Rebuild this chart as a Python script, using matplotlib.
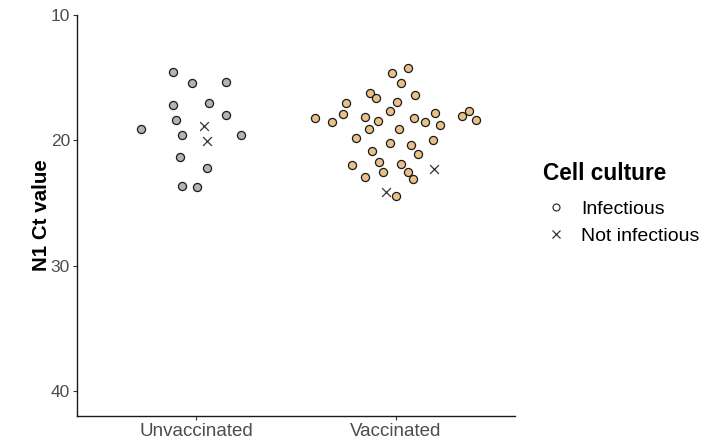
import numpy as np
import matplotlib
matplotlib.use("Agg")
import matplotlib.pyplot as plt
from matplotlib.lines import Line2D

plt.rcParams['font.family'] = ['Liberation Sans', 'DejaVu Sans']

groups = ["Unvaccinated", "Vaccinated"]

# Ct values, with the horizontal jitter of each point
unvax_ct = [14.52, 15.44, 15.36, 17.20, 16.99, 18.39, 17.99, 19.08, 19.59,
            19.56, 21.29, 22.22, 23.60, 23.71]
unvax_jit = [-0.117, -0.024, 0.148, -0.120, 0.063, -0.105, 0.147, -0.279,
             -0.074, 0.222, -0.084, 0.051, -0.074, 0.001]
unvax_ni_ct = [18.84, 20.04]
unvax_ni_jit = [0.038, 0.051]

vax_ct = [14.25, 14.60, 15.44, 16.24, 16.59, 16.35, 17.01, 16.96, 17.63,
          17.90, 18.23, 18.54, 18.10, 18.45, 19.07, 19.09, 18.19, 18.50,
          17.83, 18.80, 18.02, 17.63, 18.37, 19.84, 20.18, 20.32, 19.98,
          20.81, 21.08, 21.73, 21.93, 21.89, 22.49, 22.53, 22.88, 23.08,
          24.46]
vax_jit = [0.063, -0.020, 0.025, -0.128, -0.097, 0.100, -0.251, 0.008,
           -0.026, -0.265, -0.407, -0.317, -0.154, -0.090, -0.135, 0.018,
           0.093, 0.146, 0.196, 0.223, 0.334, 0.367, 0.402, -0.200, -0.029,
           0.077, 0.188, -0.116, 0.112, -0.084, -0.221, 0.029, -0.062,
           0.062, -0.152, 0.087, 0.002]
vax_ni_ct = [22.29, 24.14]
vax_ni_jit = [0.195, -0.048]

legend_title = "Cell culture"
legend_labels = ["Infectious", "Not infectious"]
fill_colors = ["#b3b3b3", "#e9c088"]

fig = plt.figure(figsize=(7.07, 4.40), dpi=100)
ax = fig.add_axes([77 / 707, 1 - 415.7 / 440, 438 / 707, 400.7 / 440])

sets = [(unvax_ct, unvax_jit, unvax_ni_ct, unvax_ni_jit),
        (vax_ct, vax_jit, vax_ni_ct, vax_ni_jit)]
for i, (ct, jit, ni_ct, ni_jit) in enumerate(sets):
    pos = i + 1
    ax.scatter(pos + np.array(jit), ct, s=34, facecolor=fill_colors[i],
               edgecolor="#1a1a1a", linewidth=0.9, zorder=3)
    ax.scatter(pos + np.array(ni_jit), ni_ct, s=40, marker="x",
               color="#333333", linewidth=0.9, zorder=3)

ax.set_xlim(0.4, 2.6)
ax.set_ylim(41.93, 10)
ax.set_xticks([1, 2])
ax.set_xticklabels(groups)
ax.set_yticks([10, 20, 30, 40])
ax.tick_params(axis="both", labelcolor="#4d4d4d",
               color="#333333", length=3, width=0.8, pad=2)
ax.tick_params(axis="x", labelsize=13.5)
ax.tick_params(axis="y", labelsize=12.5)
for side in ["top", "right"]:
    ax.spines[side].set_visible(False)
for side in ["left", "bottom"]:
    ax.spines[side].set_linewidth(1.0)
    ax.spines[side].set_color("#1a1a1a")

ax.set_ylabel("N1 Ct value", fontsize=14.8, fontweight="bold", labelpad=0)

# legend: title drawn as its own text so its gap to the keys matches
fig.text(543 / 707, 1 - 173 / 440, legend_title, fontsize=16.3,
         fontweight="bold", va="center", ha="left")
handles = [
    Line2D([], [], marker="o", linestyle="none", markersize=5,
           markerfacecolor="white", markeredgecolor="#333333",
           markeredgewidth=0.9),
    Line2D([], [], marker="x", linestyle="none", markersize=6,
           color="#333333", markeredgewidth=0.9),
]
leg = fig.legend(handles, legend_labels, loc="upper left",
                 bbox_to_anchor=(540 / 707, 1 - 200 / 440), frameon=False,
                 fontsize=14, handletextpad=0.5, handlelength=1.6,
                 labelspacing=0.5, borderpad=0.0, borderaxespad=0.0)

fig.savefig("out.png", dpi=100)
